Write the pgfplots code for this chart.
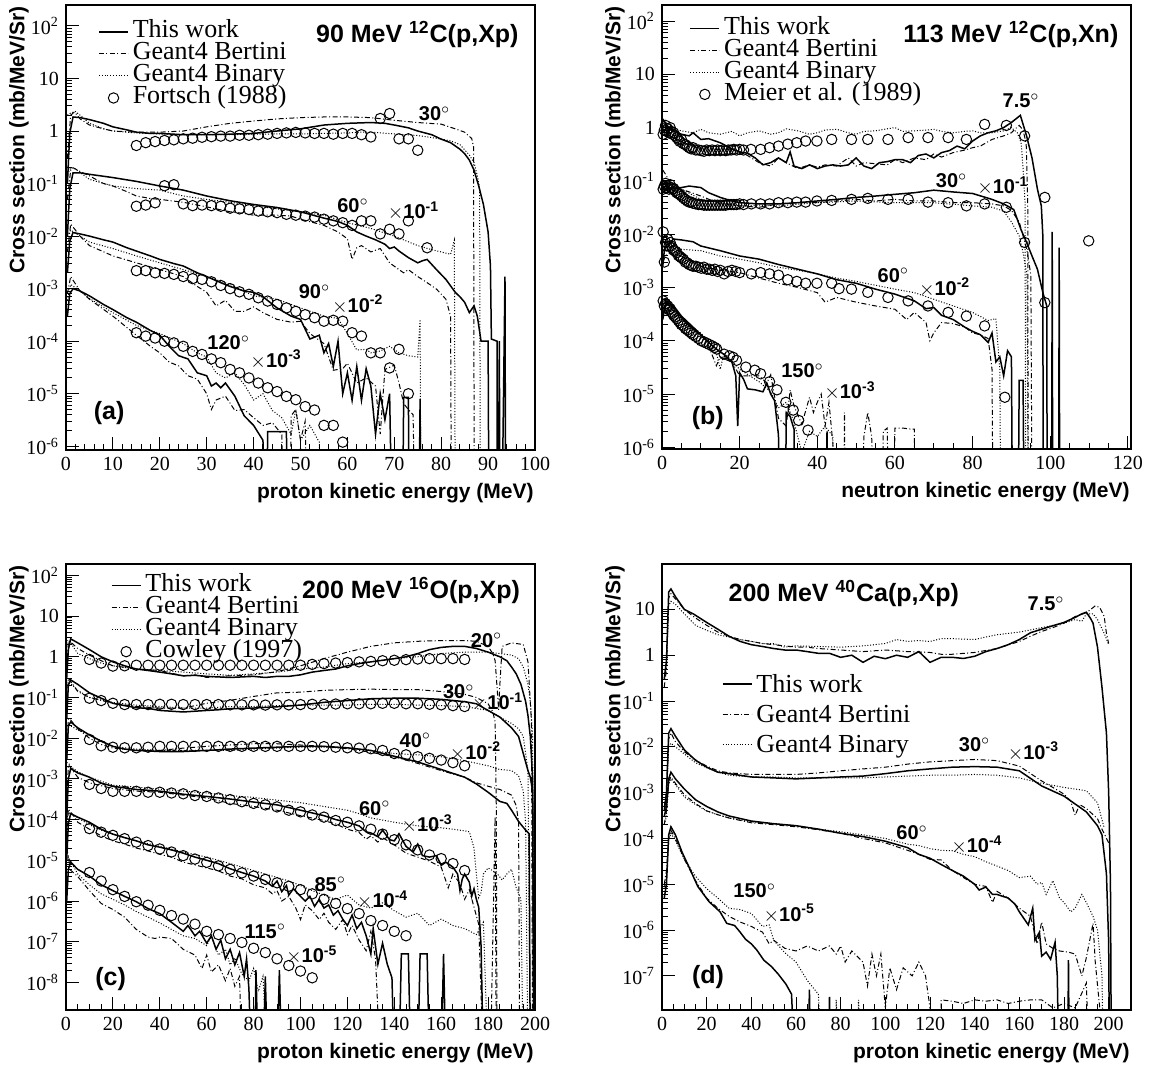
\documentclass[border=0pt]{standalone}
\usepackage{fontspec}
\setmainfont{Liberation Serif}
\setsansfont{Liberation Sans}
\usepackage{pgfplots}
\pgfplotsset{compat=1.18}

\newcommand{\ang}[1]{{\sffamily\bfseries\fontsize{10}{10}\selectfont #1$^{\circ}$}}
\newcommand{\fac}[1]{{\sffamily\bfseries\fontsize{10}{10}\selectfont$\times$10\textsuperscript{-#1}}}
\newcommand{\ttl}[1]{{\sffamily\bfseries\fontsize{12.5}{12.5}\selectfont #1}}
\newcommand{\pnl}[1]{{\sffamily\bfseries\fontsize{12.5}{12.5}\selectfont #1}}

\pgfplotsset{
  rootax/.style={
    scale only axis, width=234.5pt, height=222.5pt, anchor=south west,
    tick align=inside, tick pos=left,
    axis line style={line width=0.6pt},
    every tick/.style={black, line width=0.5pt},
    major tick length=6.5pt, minor tick length=3pt,
    ticklabel style={font=\rmfamily\fontsize{10}{11}\selectfont},
    xlabel style={font=\sffamily\bfseries\fontsize{10.5}{11}\selectfont, inner sep=0pt,
      at={([yshift=-24pt,xshift=-0.5pt]axis description cs:1,0)}, anchor=base east},
    ylabel style={font=\sffamily\bfseries\fontsize{10.5}{11}\selectfont, inner sep=0pt,
      at={([xshift=-23.5pt,yshift=-0.5pt]axis description cs:0,1)}, anchor=east},
    ylabel={Cross section (mb/MeV/Sr)},
    legend cell align=left,
    legend style={draw=none, fill=none, anchor=north west, inner sep=0pt,
      font=\rmfamily\fontsize{13}{13}\selectfont,
      nodes={inner sep=0pt, text height=8.5pt, text depth=2.5pt},
      /tikz/every odd column/.append style={column sep=2pt}},
  },
  tw/.style={black, line width=0.75pt, no marks,
    legend image code/.code={\draw[##1] (0pt,0pt)--(14.5pt,0pt);}},
  be/.style={black, line width=0.5pt, no marks,
    dash pattern=on 2.5pt off 1.2pt on 0.5pt off 1.2pt,
    legend image code/.code={\draw[##1] (0pt,0pt)--(14.5pt,0pt);}},
  bi/.style={black, line width=0.5pt, no marks,
    dash pattern=on 0.5pt off 0.9pt,
    legend image code/.code={\draw[##1] (0pt,0pt)--(14.5pt,0pt);}},
  ex/.style={black, only marks, mark=o, mark size=2.6pt,
    mark options={line width=0.5pt, solid},
    legend image code/.code={\draw[##1] plot coordinates {(7.25pt,0pt)};}},
  twf/.style={tw, forget plot},
  bef/.style={be, forget plot},
  bif/.style={bi, forget plot},
  exf/.style={ex, forget plot},
}

\begin{document}
\begin{tikzpicture}
\useasboundingbox (0pt,0pt) rectangle (575.5pt,-535pt);

% ---------------- (a) 90 MeV 12C(p,Xp)
\begin{axis}[ymode=log, rootax, at={(33pt,-225pt)},
  xmin=0, xmax=100, ymin=8.5e-7, ymax=250,
  xtick={0,10,...,100}, minor x tick num=4,
  xticklabels={0,10,20,30,40,50,60,70,80,90,100},
  ytick={1e-6,1e-5,1e-4,1e-3,1e-2,1e-1,1,10,100},
  yticklabels={10\textsuperscript{-6},10\textsuperscript{-5},10\textsuperscript{-4},10\textsuperscript{-3},10\textsuperscript{-2},10\textsuperscript{-1},1,10,10\textsuperscript{2}},
  xlabel={proton kinetic energy (MeV)},
  legend style={at={(0.068,0.965)}}]
% 30 deg
\addplot[tw] coordinates {(0.3,0.1)(0.8,0.9)(1.5,1.85)(3,1.8)(5,1.65)(8,1.4)(10,1.2)(13,1.05)(15,0.95)(18,0.9)(20,0.9)(25,0.85)(30,0.85)(35,0.87)(40,0.9)(45,1.0)(50,1.1)(55,1.3)(60,1.4)(65,1.45)(68,1.4)(70,1.3)(73,1.15)(75,1.0)(78,0.85)(80,0.7)(82,0.6)(84,0.45)(85,0.37)(86,0.28)(87,0.18)(88,0.09)(89,0.04)(90,0.012)(90.5,0.0027)(90.7,1.1e-4)(91.9,1e-4)(92,1e-10)(92.4,1e-4)(92.6,1e-10)(93.6,1.7e-3)(93.8,1e-10)};
\addlegendentry{This work}
\addplot[be] coordinates {(0.3,0.3)(1,2.0)(1.8,2.3)(3,1.7)(5,1.3)(8,1.1)(10,1.0)(15,0.95)(20,0.95)(25,1.0)(30,1.2)(35,1.4)(40,1.55)(45,1.7)(50,1.8)(55,1.85)(60,1.85)(65,1.8)(70,1.6)(75,1.45)(80,1.35)(83,1.1)(85,0.95)(86.5,0.72)(86.9,0.5)(87.1,1e-10)};
\addlegendentry{Geant4 Bertini}
\addplot[bi] coordinates {(0.3,2.0)(1,2.2)(2,2.35)(3,2.0)(5,1.4)(8,1.1)(10,1.0)(15,0.92)(20,0.88)(25,0.85)(30,0.85)(35,0.85)(40,0.87)(45,0.88)(50,0.88)(55,0.9)(60,0.92)(63,0.95)(65,0.95)(70,0.88)(75,0.82)(78,0.75)(80,0.7)(82,0.65)(84,0.55)(86,0.35)(87,0.25)(87.8,0.13)(88.2,0.08)(88.4,1e-10)};
\addlegendentry{Geant4 Binary}
\addplot[ex] coordinates {(15,0.53)(17,0.6)(19,0.63)(21,0.66)(23,0.68)(25,0.71)(27,0.73)(29,0.76)(31,0.78)(33,0.8)(35,0.8)(37,0.83)(39,0.83)(41,0.85)(43,0.87)(45,0.9)(47,0.92)(49,0.94)(51,0.92)(53,0.9)(55,0.9)(57,0.87)(59,0.9)(61,0.9)(63,0.85)(65,0.77)(67,1.73)(69,2.15)(71,0.71)(73,0.71)(75,0.43)};
\addlegendentry{Fortsch (1988)}
% 60 deg x1e-1
\addplot[twf] coordinates {(0.3,0.01)(0.8,0.08)(1.5,0.16)(3,0.16)(5,0.15)(10,0.13)(15,0.11)(20,0.09)(25,0.075)(30,0.058)(35,0.047)(40,0.04)(45,0.035)(50,0.029)(55,0.022)(58,0.019)(60,0.016)(62,0.012)(64,0.01)(66,0.0085)(68,0.007)(69,0.0058)(70,0.0062)(71,0.0052)(73,0.0039)(75,0.0031)(76,0.0034)(77,0.0036)(79,0.0023)(81,0.0015)(83,8.5e-4)(84,7e-4)(85,5.5e-4)(86,3.5e-4)(87,4.7e-4)(87.7,3e-4)(88.5,1e-4)(90,1e-4)(90.3,1e-10)};
\addplot[bef] coordinates {(0.3,0.05)(1,0.18)(1.5,0.2)(3,0.17)(5,0.14)(8,0.1)(10,0.09)(13,0.07)(15,0.058)(18,0.052)(20,0.05)(25,0.044)(30,0.036)(35,0.029)(38,0.027)(40,0.025)(45,0.025)(48,0.024)(50,0.021)(55,0.016)(58,0.012)(60,0.0089)(61,0.0036)(62,0.006)(63,0.0066)(65,0.005)(67,0.0058)(69,0.0031)(71,0.0023)(72,0.002)(73,0.0023)(75,0.0017)(77,0.0013)(79,9.8e-4)(81,6.3e-4)(82,3e-4)(82.3,1e-10)};
\addplot[bif] coordinates {(0.3,0.15)(1,0.2)(2,0.19)(5,0.12)(10,0.09)(15,0.08)(20,0.075)(25,0.058)(30,0.05)(35,0.044)(40,0.038)(45,0.033)(50,0.029)(55,0.025)(60,0.018)(65,0.014)(70,0.01)(75,0.0066)(78,0.0055)(80,0.005)(82,0.0045)(82.8,0.0083)(83.1,1e-10)};
\addplot[exf] coordinates {(15,0.037)(17,0.039)(19,0.043)(21,0.091)(23,0.095)(25,0.041)(27,0.038)(29,0.039)(31,0.038)(33,0.037)(35,0.034)(37,0.033)(39,0.032)(41,0.03)(43,0.029)(45,0.028)(47,0.026)(49,0.025)(51,0.024)(53,0.023)(55,0.021)(57,0.0195)(59,0.018)(61,0.016)(63,0.0195)(65,0.0195)(67,0.011)(69,0.0135)(71,0.011)(73,0.0195)(77,0.006)};
% 90 deg x1e-2
\addplot[twf] coordinates {(0.3,0.002)(0.8,0.008)(1.5,0.0117)(3,0.011)(5,0.01)(8,0.0085)(10,0.0077)(13,0.006)(15,0.0052)(18,0.0042)(20,0.0036)(23,0.003)(25,0.0027)(28,0.002)(30,0.0017)(33,0.0013)(35,0.0011)(38,9e-4)(40,8.5e-4)(42,7e-4)(45,4.3e-4)(48,3e-4)(50,2.6e-4)(52,1.1e-4)(54,1.3e-4)(55,6e-5)(56,9e-5)(57,3.3e-5)(58,1e-4)(59,1e-5)(60,2.5e-5)(61,7.5e-6)(62,3.3e-5)(63,7.5e-6)(64,3e-5)(65,1.4e-5)(66,1.7e-6)(67,1e-5)(68,3.2e-6)(69,1e-5)(70,1e-10)(71.5,1e-10)(72,8.5e-6)(73,8.5e-6)(73.4,1e-10)(75,1e-10)(75.5,8e-6)(75.8,1e-10)};
\addplot[bef] coordinates {(0.3,0.005)(1,0.017)(3,0.01)(5,0.0066)(10,0.0042)(15,0.0031)(20,0.0023)(25,0.0017)(28,0.0011)(30,8.5e-4)(32,4.7e-4)(34,6e-4)(36,3.7e-4)(38,3.7e-4)(40,4.5e-4)(42,3.5e-4)(45,2.6e-4)(48,2.3e-4)(50,2.4e-4)(52,1.4e-4)(55,9e-5)(57,2.8e-5)(59,3e-5)(60,3.8e-5)(62,1.6e-5)(64,2e-5)(66,1.4e-5)(67,1.7e-6)(68,2.9e-5)(70,3.5e-5)(71,1.6e-5)(72,6.5e-6)(73,5e-6)(74,4e-6)(75,1e-10)};
\addplot[bif] coordinates {(0.3,0.01)(1,0.013)(3,0.01)(5,0.0077)(10,0.0058)(15,0.0042)(20,0.0031)(25,0.0023)(30,0.0017)(35,0.0012)(40,7.3e-4)(45,6.3e-4)(50,4.3e-4)(55,3e-4)(58,2.7e-4)(60,1.4e-4)(62,6.8e-5)(64,7e-5)(65,6e-5)(67,6.5e-5)(69,8e-5)(71,6e-5)(73,5.3e-5)(75,5e-5)(75.5,2.6e-4)(75.8,1e-10)};
\addplot[exf] coordinates {(15,2.2e-3)(17,2.2e-3)(19,2.0e-3)(21,1.95e-3)(23,1.87e-3)(25,1.7e-3)(27,1.55e-3)(29,1.5e-3)(31,1.35e-3)(33,1.15e-3)(35,1.0e-3)(37,8.7e-4)(39,7.8e-4)(41,6.7e-4)(43,5.8e-4)(45,5e-4)(47,4.3e-4)(49,3.7e-4)(51,3.2e-4)(53,2.8e-4)(55,2.4e-4)(57,2.5e-4)(59,2.4e-4)(61,1.45e-4)(63,1.25e-4)(65,6e-5)(67,6e-5)(69,3.1e-5)(71,7e-5)(73,1e-5)};
% 120 deg x1e-3
\addplot[twf] coordinates {(0.3,3e-4)(0.8,8e-4)(1.5,0.001)(3,9e-4)(5,7.3e-4)(8,5e-4)(10,4e-4)(13,2.8e-4)(15,2.3e-4)(18,1.6e-4)(20,1.3e-4)(22,8e-5)(24,5.3e-5)(26,4.6e-5)(28,2.5e-5)(30,2.2e-5)(31,1.4e-5)(32,1.6e-5)(33,1.3e-5)(34,1.6e-5)(36,9e-6)(38,3.8e-6)(40,2.5e-6)(42,1.3e-6)(42.5,1e-10)(43,1.9e-6)(47,1.9e-6)(47.5,1e-10)(49,1e-10)(50,9e-7)(52,1e-10)};
\addplot[bef] coordinates {(0.3,8e-4)(1,0.0017)(3,9e-4)(5,6.3e-4)(10,3e-4)(15,1.3e-4)(18,8e-5)(20,6e-5)(22,4e-5)(24,3.4e-5)(26,2.2e-5)(28,1.9e-5)(30,1e-5)(31,5e-6)(32,7.6e-6)(34,9e-6)(36,4.8e-6)(38,5e-6)(40,3.5e-6)(42,2.5e-6)(44,2.8e-6)(46,1.7e-6)(47.5,1e-10)(48,3.8e-6)(49,5e-6)(50,1.3e-6)(51,3e-6)(52,1e-10)};
\addplot[bif] coordinates {(0.3,6e-4)(1,0.0012)(3,9e-4)(5,6.5e-4)(10,3.5e-4)(15,2e-4)(20,1.4e-4)(25,9e-5)(28,6e-5)(30,5e-5)(32,2.5e-5)(34,2e-5)(36,2.5e-5)(38,1.5e-5)(40,7.6e-6)(42,1e-5)(44,4.8e-6)(46,3.5e-6)(48,1.7e-6)(49,5e-6)(50,1.3e-6)(52,2.5e-6)(54,1.2e-6)(55,1e-10)};
\addplot[exf] coordinates {(15,1.45e-4)(17,1.25e-4)(19,1.15e-4)(21,1e-4)(23,9.3e-5)(25,8e-5)(27,6.4e-5)(29,5.6e-5)(31,4.6e-5)(33,3.9e-5)(35,2.9e-5)(37,2.5e-5)(39,2e-5)(41,1.6e-5)(43,1.3e-5)(45,1.1e-5)(47,8.9e-6)(49,7.7e-6)(51,5.7e-6)(53,4.9e-6)(55,2.5e-6)(57,2.5e-6)(59,1.2e-6)};
\node[anchor=east] at (rel axis cs:0.98,0.933) {\ttl{90 MeV \textsuperscript{12}C(p,Xp)}};
\node at (axis cs:78.6,2.1) {\ang{30}};
\node at (axis cs:61.2,0.038) {\ang{60}};
\node at (axis cs:74.1,0.03) {\fac{1}};
\node at (axis cs:53,8.7e-4) {\ang{90}};
\node at (axis cs:62.2,5e-4) {\fac{2}};
\node at (axis cs:34.7,9.3e-5) {\ang{120}};
\node at (axis cs:44.8,4.5e-5) {\fac{3}};
\node at (axis cs:9.2,4.3e-6) {\pnl{(a)}};
\end{axis}

% ---------------- (b) 113 MeV 12C(p,Xn)
\begin{axis}[ymode=log, rootax, at={(331pt,-224.5pt)}, height=222pt,
  xmin=0, xmax=120.8, ymin=9.3e-7, ymax=200,
  xtick={0,20,...,120}, minor x tick num=3,
  xticklabels={0,20,40,60,80,100,120},
  ytick={1e-6,1e-5,1e-4,1e-3,1e-2,1e-1,1,10,100},
  yticklabels={10\textsuperscript{-6},10\textsuperscript{-5},10\textsuperscript{-4},10\textsuperscript{-3},10\textsuperscript{-2},10\textsuperscript{-1},1,10,10\textsuperscript{2}},
  xlabel={neutron kinetic energy (MeV)},
  legend style={at={(0.058,0.973)}}]
% 7.5 deg
\addplot[tw] coordinates {(0.2,1.45)(1,1.2)(2,0.93)(3,0.85)(5,0.75)(7,0.7)(8,0.8)(10,0.6)(12,0.62)(15,0.52)(18,0.4)(20,0.35)(22,0.33)(24,0.27)(26,0.2)(28,0.22)(30,0.27)(32,0.22)(33,0.35)(34,0.19)(36,0.17)(38,0.2)(40,0.17)(42,0.19)(44,0.2)(46,0.19)(48,0.2)(50,0.27)(52,0.19)(54,0.17)(56,0.22)(58,0.23)(60,0.25)(62,0.25)(64,0.22)(66,0.3)(68,0.32)(70,0.27)(72,0.34)(74,0.37)(76,0.45)(78,0.4)(80,0.56)(82,0.7)(84,0.8)(86,0.87)(88,1.0)(90,1.25)(92.3,1.7)(93.9,0.7)(95.3,0.27)(96.7,0.07)(97.7,0.034)(98.1,0.009)(98.2,1e-10)(100.3,1e-10)(100.5,0.011)(100.7,1e-10)(102.1,1e-10)(102.3,0.0056)(102.5,1e-10)};
\addlegendentry{This work}
\addplot[be] coordinates {(0.2,1.4)(1,1.1)(2,0.8)(3,0.7)(5,0.52)(8,0.45)(10,0.4)(12,0.42)(15,0.38)(18,0.4)(20,0.35)(22,0.3)(25,0.22)(28,0.19)(30,0.27)(32,0.22)(35,0.17)(38,0.2)(40,0.18)(42,0.2)(45,0.19)(48,0.27)(50,0.19)(52,0.22)(55,0.21)(58,0.2)(60,0.25)(62,0.22)(65,0.27)(68,0.25)(70,0.32)(72,0.28)(75,0.34)(78,0.38)(80,0.42)(82,0.45)(85,0.6)(88,0.7)(90,0.8)(91,0.95)(92,1.1)(93,0.9)(93.8,0.5)(94.2,0.04)(94.4,1e-10)};
\addlegendentry{Geant4 Bertini}
\addplot[bi] coordinates {(0.2,1.2)(1,1.25)(2,1.1)(3,0.95)(5,0.87)(8,0.8)(10,0.93)(12,0.8)(15,0.75)(18,0.85)(20,0.7)(22,0.8)(25,0.87)(28,0.75)(30,0.8)(32,0.95)(35,0.87)(38,0.75)(40,0.8)(42,0.9)(45,0.93)(48,0.8)(50,0.75)(52,0.85)(55,0.87)(58,0.95)(60,1.0)(62,0.85)(65,0.87)(68,0.9)(70,0.93)(72,0.85)(75,0.8)(78,0.85)(80,0.87)(82,0.8)(85,0.8)(88,0.87)(90,1.0)(91.5,0.8)(92.5,0.52)(93,0.17)(93.5,0.04)(93.8,1e-10)};
\addlegendentry{Geant4 Binary}
\addplot[ex] coordinates {(0.3,0.75)(0.6,0.9)(0.9,1.1)(1.2,0.85)(1.5,0.95)(1.8,0.8)(2.1,1.0)(2.4,0.85)(2.7,0.75)(3,0.8)(3.4,0.7)(3.8,0.65)(4.2,0.6)(4.6,0.55)(5,0.6)(5.5,0.5)(6,0.48)(6.5,0.45)(7,0.42)(7.5,0.4)(8,0.42)(8.7,0.38)(9.4,0.38)(10.1,0.37)(10.8,0.36)(11.5,0.38)(12.2,0.37)(12.9,0.38)(13.6,0.37)(14.3,0.38)(15,0.37)(15.7,0.38)(16.4,0.37)(17.1,0.38)(17.8,0.38)(18.5,0.39)(19.2,0.38)(20,0.39)(21,0.38)(22.9,0.39)(25.4,0.39)(27.7,0.42)(30,0.45)(32.4,0.49)(34.7,0.52)(37,0.56)(39.9,0.56)(43.7,0.6)(48.8,0.6)(53,0.6)(58.2,0.6)(63.4,0.65)(68.5,0.65)(73.7,0.65)(78.4,0.6)(83.1,1.15)(88.7,1.1)(93.4,0.7)(98.6,0.049)(109.9,0.0075)};
\addlegendentry{Meier et al. (1989)}
% 30 deg x1e-1
\addplot[twf] coordinates {(0.2,0.1)(1,0.09)(2,0.07)(4,0.075)(5,0.075)(7,0.08)(10,0.075)(12,0.06)(15,0.049)(18,0.042)(20,0.039)(25,0.037)(30,0.037)(35,0.039)(40,0.042)(45,0.045)(50,0.049)(55,0.052)(60,0.056)(65,0.06)(70,0.067)(75,0.062)(80,0.058)(85,0.045)(88,0.037)(90.6,0.029)(92.5,0.012)(93.9,0.007)(95.3,0.0039)(96.7,0.0022)(98.1,8e-4)(99.1,4.5e-4)(99.3,1e-10)};
\addplot[bef] coordinates {(0.2,0.16)(1,0.13)(2,0.093)(5,0.07)(10,0.052)(15,0.037)(20,0.034)(25,0.032)(30,0.037)(35,0.039)(40,0.039)(45,0.042)(50,0.045)(55,0.042)(60,0.045)(65,0.042)(70,0.042)(75,0.039)(80,0.039)(85,0.037)(88,0.034)(90,0.028)(92,0.017)(93,0.0093)(94,0.005)(95,0.0017)(95.5,1e-10)};
\addplot[bif] coordinates {(0.2,0.08)(1,0.085)(2,0.075)(5,0.07)(10,0.045)(15,0.039)(20,0.034)(25,0.035)(30,0.034)(40,0.039)(50,0.042)(60,0.039)(70,0.039)(80,0.034)(85,0.032)(88,0.027)(90,0.017)(92,0.0093)(93,0.0045)(94,0.0017)(94.5,1e-10)};
\addplot[exf] coordinates {(0.3,0.07)(0.6,0.08)(0.9,0.09)(1.2,0.075)(1.5,0.08)(1.8,0.07)(2.1,0.085)(2.4,0.075)(2.7,0.07)(3,0.072)(3.4,0.065)(3.8,0.06)(4.2,0.058)(4.6,0.055)(5,0.052)(5.5,0.048)(6,0.045)(6.5,0.042)(7,0.04)(7.5,0.04)(8,0.038)(8.7,0.037)(9.4,0.036)(10.1,0.036)(10.8,0.035)(11.5,0.035)(12.2,0.035)(12.9,0.035)(13.6,0.035)(14.3,0.035)(15,0.035)(15.7,0.035)(16.4,0.035)(17.1,0.036)(17.8,0.036)(18.5,0.036)(19.2,0.036)(20,0.037)(21,0.036)(23,0.037)(25.4,0.037)(27.7,0.037)(30,0.039)(32.4,0.039)(34.7,0.04)(37,0.04)(39.9,0.042)(43.7,0.043)(48.8,0.045)(53,0.047)(58.2,0.045)(63.4,0.045)(68.5,0.04)(73.7,0.039)(78.4,0.034)(83.1,0.037)(88.7,0.032)(93.4,0.007)(98.6,5.2e-4)};
% 60 deg x1e-2
\addplot[twf] coordinates {(0.2,0.0025)(0.6,0.005)(1,0.006)(3,0.0081)(5,0.0078)(8,0.0072)(10,0.006)(15,0.0049)(20,0.0039)(25,0.0034)(30,0.0027)(35,0.0022)(40,0.0018)(45,0.0014)(50,0.0012)(55,9.3e-4)(60,7.5e-4)(65,5.6e-4)(68,4e-4)(70,4.2e-4)(72,3e-4)(75,2.5e-4)(78,1.8e-4)(80,1.5e-4)(82,1.3e-4)(84,9.3e-5)(85,1.4e-4)(86,4e-5)(87,5e-5)(88,2.2e-5)(89,6.5e-5)(90,5e-5)(90.5,1e-10)(91.5,1e-10)(92,1.8e-5)(93,1.8e-5)(93.5,1e-10)};
\addplot[bef] coordinates {(0.2,0.003)(1,0.004)(2,0.0045)(5,0.0039)(10,0.0025)(15,0.0021)(20,0.0019)(25,0.0015)(30,0.0012)(35,0.001)(40,8e-4)(42,5.3e-4)(45,6.5e-4)(50,5.3e-4)(55,4.5e-4)(60,3.9e-4)(63,2.5e-4)(65,3.4e-4)(68,2.2e-4)(69,1e-4)(70,1.4e-4)(72,2.2e-4)(75,2.1e-4)(78,1.8e-4)(80,1.4e-4)(82,1.3e-4)(84,1.1e-4)(85,2.9e-5)(85.5,1e-10)};
\addplot[bif] coordinates {(0.2,0.007)(1,0.008)(2,0.0075)(5,0.0052)(10,0.0049)(15,0.0039)(20,0.0034)(25,0.0029)(30,0.0024)(35,0.0021)(40,0.0018)(45,0.0015)(50,0.0013)(55,0.0011)(60,9.3e-4)(65,8e-4)(70,6e-4)(75,4.5e-4)(80,3.4e-4)(84,2.4e-4)(86,2.6e-4)(87,2.9e-5)(87.5,1e-10)};
\addplot[exf] coordinates {(0.3,0.011)(0.6,0.003)(0.9,0.007)(1.2,0.006)(1.5,0.008)(1.8,0.006)(2.1,0.007)(2.4,0.006)(2.7,0.0055)(3,0.005)(3.4,0.0048)(3.8,0.0045)(4.2,0.004)(4.6,0.0038)(5,0.0036)(5.5,0.0034)(6,0.003)(6.5,0.0029)(7,0.0027)(7.5,0.0026)(8,0.0025)(8.7,0.0025)(9.4,0.0024)(10.1,0.0023)(10.8,0.0024)(11.5,0.0022)(12.2,0.0022)(12.9,0.0021)(13.6,0.0022)(14.3,0.002)(15,0.0021)(16,0.0018)(17,0.002)(18,0.0021)(19,0.002)(20,0.0019)(23,0.0018)(25.4,0.0019)(27.7,0.0018)(30,0.0017)(32.4,0.0014)(34.7,0.0013)(37,0.0012)(39.9,0.0012)(43.7,0.0012)(45.6,9.5e-4)(48.8,9.3e-4)(53,8.1e-4)(58.2,6.5e-4)(63.4,5.6e-4)(68.5,4.5e-4)(73.7,3.4e-4)(78.4,2.9e-4)(83.1,1.9e-4)(88.3,8.7e-6)};
% 150 deg x1e-3
\addplot[twf] coordinates {(0.2,2.5e-4)(1,5.6e-4)(3,4.5e-4)(5,2.9e-4)(8,1.8e-4)(10,1.3e-4)(12,9.3e-5)(14,7e-5)(16,5.5e-5)(18,4e-5)(19,2.2e-5)(19.5,2.5e-6)(20,2.5e-5)(21,1.9e-5)(22,1.25e-5)(24,1.2e-5)(26,1.1e-5)(27,1.6e-5)(28,1e-5)(29,7.5e-6)(30,1.7e-6)(30.5,1e-10)(31.5,1e-10)(32,4.5e-6)(33,3.8e-6)(34,2.2e-6)(34.5,1e-10)(42,1e-10)(42.5,2e-6)(43,1e-10)};
\addplot[bef] coordinates {(0.2,6e-4)(2,5.2e-4)(5,2.7e-4)(8,1.8e-4)(10,1.3e-4)(12,8e-5)(14,3.4e-5)(15,5e-5)(18,4e-5)(20,2.2e-5)(25,2.2e-5)(27,1.6e-5)(28,2.3e-5)(30,3.5e-6)(32,2.5e-6)(33,1.2e-5)(34,6e-6)(36,2.7e-6)(38,8.7e-6)(39,4.5e-6)(40,7e-6)(41,1e-5)(42,2.5e-6)(43,7e-6)(44,1.2e-6)(45,1e-10)(46.5,1e-10)(47,4.5e-6)(47.5,1e-10)(50,1e-10)(52,1.6e-6)(53,4.5e-6)(54,1.6e-6)(56,1e-10)(57,2e-6)(58,2.3e-6)(59,1e-10)(60,2.3e-6)(62,2.3e-6)(64,2.2e-6)(65,2.2e-6)(65.3,1e-10)};
\addplot[bif] coordinates {(0.2,5e-4)(2,4.5e-4)(5,2.5e-4)(10,1.4e-4)(14,6e-5)(15,2.9e-5)(16,6e-5)(20,2.9e-5)(25,1.7e-5)(28,1.1e-5)(30,5.5e-6)(32,7e-6)(34,3e-6)(36,8e-7)(38,2e-6)(40,1.6e-6)(42,2.5e-6)(44,1.6e-6)(45,1e-10)};
\addplot[exf] coordinates {(0.3,5.6e-4)(0.6,4.5e-4)(0.9,5e-4)(1.2,4.2e-4)(1.5,4.5e-4)(1.8,3.8e-4)(2.1,4e-4)(2.4,3.5e-4)(2.7,3.3e-4)(3,3e-4)(3.4,2.8e-4)(3.8,2.6e-4)(4.2,2.4e-4)(4.6,2.2e-4)(5,2e-4)(5.5,1.9e-4)(6,1.7e-4)(6.5,1.6e-4)(7,1.5e-4)(7.5,1.4e-4)(8,1.3e-4)(8.7,1.2e-4)(9.4,1.1e-4)(10.1,1e-4)(10.8,9.5e-5)(11.5,9e-5)(12.2,8.5e-5)(12.9,8e-5)(13.6,7.5e-5)(14.1,7e-5)(16,5.6e-5)(17.4,5.2e-5)(18.3,4.9e-5)(19.2,4.3e-5)(21.6,3.2e-5)(23.9,2.8e-5)(25.4,2.4e-5)(27.7,1.7e-5)(29.6,1.2e-5)(31.9,7e-6)(33.8,5e-6)(35.2,3.2e-6)(37.6,2.1e-6)};
\node[anchor=east] at (rel axis cs:0.988,0.934) {\ttl{113 MeV \textsuperscript{12}C(p,Xn)}};
\node at (axis cs:92.5,3.2) {\ang{7.5}};
\node at (axis cs:74.6,0.1) {\ang{30}};
\node at (axis cs:87.8,0.08) {\fac{1}};
\node at (axis cs:59.6,1.7e-3) {\ang{60}};
\node at (axis cs:72.8,1e-3) {\fac{2}};
\node at (axis cs:36.2,2.7e-5) {\ang{150}};
\node at (axis cs:48.4,1.15e-5) {\fac{3}};
\node at (axis cs:11.8,3.6e-6) {\pnl{(b)}};
\end{axis}

% ---------------- (c) 200 MeV 16O(p,Xp)
\begin{axis}[ymode=log, rootax, at={(33pt,-505pt)}, height=223pt,
  xmin=0, xmax=200, ymin=2.1e-9, ymax=190,
  xtick={0,20,...,200}, minor x tick num=3,
  xticklabels={0,20,40,60,80,100,120,140,160,180,200},
  ytick={1e-8,1e-7,1e-6,1e-5,1e-4,1e-3,1e-2,1e-1,1,10,100},
  yticklabels={10\textsuperscript{-8},10\textsuperscript{-7},10\textsuperscript{-6},10\textsuperscript{-5},10\textsuperscript{-4},10\textsuperscript{-3},10\textsuperscript{-2},10\textsuperscript{-1},1,10,10\textsuperscript{2}},
  xlabel={proton kinetic energy (MeV)},
  legend style={at={(0.095,0.977)}}]
% 20 deg
\addplot[tw] coordinates {(0.3,0.3)(1,1.5)(2,2.75)(5,2.2)(10,1.5)(15,1.0)(20,0.75)(25,0.6)(30,0.5)(35,0.46)(40,0.42)(45,0.38)(50,0.34)(55,0.35)(60,0.33)(65,0.32)(70,0.31)(75,0.32)(80,0.33)(85,0.31)(90,0.33)(95,0.33)(100,0.36)(105,0.42)(110,0.46)(115,0.5)(120,0.6)(125,0.68)(130,0.75)(135,0.82)(140,0.9)(145,1.0)(150,1.2)(155,1.5)(160,1.7)(165,1.8)(170,1.8)(175,1.6)(180,1.3)(185,1.0)(188,0.8)(190,0.56)(192,0.38)(194,0.21)(196,0.08)(197,0.036)(198,0.011)(199,0.001)(199.5,1e-10)};
\addlegendentry{This work}
\addplot[be] coordinates {(0.3,0.5)(1,2.5)(2,2.3)(5,1.6)(10,1.1)(15,0.8)(20,0.6)(25,0.55)(30,0.5)(40,0.46)(50,0.34)(55,0.36)(60,0.31)(65,0.33)(70,0.34)(80,0.36)(90,0.43)(100,0.6)(110,0.9)(120,1.3)(130,1.8)(140,2.2)(150,2.4)(160,2.5)(170,2.5)(175,2.4)(180,1.8)(182,1.2)(183,0.8)(184.5,0.05)(185,0.2)(186,1.8)(190,2.2)(195,2.0)(197,0.75)(198.5,0.025)(199,1e-10)};
\addlegendentry{Geant4 Bertini}
\addplot[bi] coordinates {(0.3,2.5)(1,2.5)(2,2.2)(5,1.2)(10,0.9)(15,0.7)(20,0.6)(30,0.5)(40,0.46)(50,0.42)(60,0.38)(70,0.35)(80,0.38)(90,0.42)(100,0.5)(110,0.56)(120,0.68)(130,0.75)(140,0.9)(150,1.0)(160,1.2)(170,1.3)(180,1.3)(185,1.2)(190,1.1)(193,0.9)(195,0.56)(197,0.21)(198,0.08)(199,0.011)(199.5,1e-10)};
\addlegendentry{Geant4 Binary}
\addplot[ex] coordinates {(10,0.86)(15,0.7)(20,0.59)(25,0.6)(30,0.62)(35,0.62)(40,0.62)(45,0.62)(50,0.62)(55,0.62)(60,0.62)(65,0.62)(70,0.62)(75,0.62)(80,0.62)(85,0.62)(90,0.62)(95,0.62)(100,0.62)(105,0.65)(110,0.68)(115,0.7)(120,0.72)(125,0.75)(130,0.77)(135,0.8)(140,0.82)(145,0.85)(150,0.88)(155,0.9)(160,0.9)(165,0.9)(170,0.86)};
\addlegendentry{Cowley (1997)}
% 30 deg x1e-1
\addplot[twf] coordinates {(0.3,0.03)(1,0.2)(2,0.27)(5,0.21)(10,0.13)(15,0.096)(20,0.072)(25,0.063)(30,0.056)(35,0.054)(40,0.048)(45,0.046)(50,0.044)(55,0.046)(60,0.048)(65,0.05)(70,0.053)(80,0.055)(90,0.059)(100,0.065)(110,0.076)(120,0.084)(130,0.093)(140,0.096)(150,0.096)(160,0.09)(170,0.079)(175,0.07)(180,0.048)(185,0.033)(190,0.018)(193,0.011)(195,0.0042)(197,0.0016)(198,0.0011)(199,5e-4)(199.5,1e-10)};
\addplot[bef] coordinates {(0.3,0.05)(1,0.3)(2,0.25)(5,0.14)(10,0.1)(20,0.072)(30,0.06)(40,0.055)(50,0.055)(60,0.072)(70,0.085)(80,0.106)(90,0.13)(100,0.135)(110,0.15)(120,0.156)(130,0.16)(140,0.156)(150,0.156)(160,0.14)(170,0.12)(175,0.1)(180,0.07)(182,0.045)(183,0.025)(183.5,2e-4)(183.8,1e-10)};
\addplot[bif] coordinates {(0.3,0.2)(1,0.25)(2,0.22)(5,0.15)(10,0.1)(20,0.075)(30,0.065)(40,0.06)(50,0.055)(60,0.055)(70,0.06)(80,0.06)(90,0.063)(100,0.065)(110,0.065)(120,0.065)(130,0.068)(140,0.068)(150,0.065)(160,0.063)(170,0.06)(180,0.048)(185,0.033)(190,0.023)(193,0.017)(195,0.011)(196,0.0042)(197,0.0016)(198,1e-10)};
\addplot[exf] coordinates {(10,0.096)(15,0.084)(20,0.072)(25,0.067)(30,0.067)(35,0.067)(40,0.068)(45,0.068)(50,0.067)(55,0.067)(60,0.067)(65,0.067)(70,0.066)(75,0.066)(80,0.066)(85,0.065)(90,0.066)(95,0.066)(100,0.067)(105,0.068)(110,0.068)(115,0.069)(120,0.07)(125,0.07)(130,0.07)(135,0.072)(140,0.072)(145,0.07)(150,0.07)(155,0.068)(160,0.066)(165,0.063)(170,0.06)};
% 40 deg x1e-2
\addplot[twf] coordinates {(0.3,0.003)(1,0.02)(2,0.025)(5,0.018)(10,0.012)(15,0.0084)(20,0.0063)(25,0.0054)(30,0.005)(40,0.0047)(50,0.0047)(60,0.005)(70,0.0054)(80,0.0057)(90,0.006)(100,0.0063)(110,0.0063)(120,0.0058)(130,0.005)(140,0.0036)(150,0.0026)(160,0.0017)(170,0.0011)(175,7.5e-4)(180,4.7e-4)(185,2.8e-4)(188,2.5e-4)(190,1.7e-4)(193,9e-5)(196,5.5e-5)(197.5,4.5e-5)(198,1e-10)};
\addplot[bef] coordinates {(0.3,0.003)(1,0.03)(2,0.028)(5,0.017)(10,0.01)(15,0.007)(20,0.0057)(30,0.005)(40,0.005)(50,0.0057)(60,0.0063)(70,0.0068)(80,0.0073)(90,0.0073)(100,0.0068)(110,0.0063)(120,0.0055)(130,0.0045)(140,0.0035)(150,0.0024)(160,0.0016)(170,0.0011)(175,8e-4)(180,6.6e-4)(185,5.5e-4)(190,4e-4)(192,2.2e-4)(193,8.5e-5)(193.5,1e-10)};
\addplot[bif] coordinates {(0.3,0.02)(1,0.022)(2,0.02)(5,0.016)(10,0.012)(20,0.0063)(30,0.0054)(40,0.005)(50,0.005)(60,0.005)(70,0.005)(80,0.0054)(90,0.0057)(100,0.006)(110,0.006)(120,0.0057)(130,0.005)(140,0.0042)(150,0.0039)(160,0.0035)(170,0.0028)(180,0.0021)(185,0.0017)(190,0.0016)(193,0.0012)(195,5e-4)(196,8.5e-5)(197,1e-10)};
\addplot[exf] coordinates {(10,0.0093)(15,0.0065)(20,0.006)(25,0.0058)(30,0.0058)(35,0.006)(40,0.0063)(45,0.0063)(50,0.0063)(55,0.0063)(60,0.0063)(65,0.0063)(70,0.0063)(75,0.0063)(80,0.0063)(85,0.0063)(90,0.0063)(95,0.0063)(100,0.0063)(105,0.0063)(110,0.0062)(115,0.006)(120,0.0058)(125,0.0057)(130,0.0055)(135,0.005)(140,0.0042)(145,0.0039)(150,0.0035)(155,0.0032)(160,0.0029)(165,0.0025)(170,0.0021)};
% 60 deg x1e-3
\addplot[twf] coordinates {(0.3,1e-4)(1,0.001)(2,0.0018)(5,0.0014)(10,0.0011)(15,7.9e-4)(20,6.6e-4)(25,6e-4)(30,5.5e-4)(40,5e-4)(50,4.2e-4)(60,3.7e-4)(70,3.2e-4)(80,2.7e-4)(90,2.3e-4)(100,1.7e-4)(110,1.25e-4)(115,1e-4)(120,8.6e-5)(125,7e-5)(128,5e-5)(130,4.7e-5)(133,3.8e-5)(135,5.5e-5)(138,3.2e-5)(140,3e-5)(142,4.5e-5)(145,2.2e-5)(148,1.6e-5)(150,2.5e-5)(152,1.3e-5)(155,1.2e-5)(158,1.3e-5)(160,7.5e-6)(162,9e-6)(165,6.8e-6)(167,4.6e-6)(168,1.8e-6)(169,3.5e-6)(170,4.6e-6)(172,2.9e-6)(173,1.3e-6)(174,2e-6)(175,1.1e-6)(176,7e-7)(177,8e-8)(178,1e-10)};
\addplot[bef] coordinates {(0.3,2e-4)(1,0.0022)(2,0.0019)(5,0.0011)(10,8e-4)(20,5.8e-4)(30,5e-4)(40,4.7e-4)(50,4e-4)(60,3.4e-4)(70,2.5e-4)(80,2.1e-4)(90,1.7e-4)(100,1.25e-4)(110,9.5e-5)(115,7.8e-5)(120,5.8e-5)(125,4.8e-5)(128,3.3e-5)(130,4e-5)(133,2.8e-5)(135,3.6e-5)(140,2.4e-5)(145,1.5e-5)(150,1.2e-5)(155,9.5e-6)(160,6.8e-6)(163,2.1e-6)(165,4.6e-6)(168,2.7e-6)(170,1.1e-6)(172,1.9e-6)(174,7e-7)(176,2.7e-7)(178,1e-10)(181,1e-10)(183,1.2e-4)(183.5,1e-10)};
\addplot[bif] coordinates {(0.3,0.0025)(1,0.0025)(2,0.002)(5,0.0015)(10,0.0011)(20,7e-4)(30,6.3e-4)(40,5.6e-4)(50,5e-4)(60,4.5e-4)(70,3.9e-4)(80,3.5e-4)(90,3e-4)(100,2.6e-4)(110,2.1e-4)(120,1.7e-4)(125,1.4e-4)(130,1.1e-4)(140,8.6e-5)(150,7e-5)(160,6.3e-5)(165,5.8e-5)(170,5.3e-5)(172,5e-5)(174,2e-5)(175,4.6e-6)(176,1.2e-6)(177,1.6e-6)(178,4.6e-6)(180,6.5e-6)(182,5.5e-6)(184,4.6e-6)(186,3.3e-6)(188,4.6e-6)(190,6e-6)(192,2.1e-6)(194,1.1e-6)(195,1e-10)};
\addplot[exf] coordinates {(10,7.3e-4)(15,5.8e-4)(20,4.95e-4)(25,4.95e-4)(30,4.95e-4)(35,4.7e-4)(40,4.7e-4)(45,4.5e-4)(50,4.3e-4)(55,3.9e-4)(60,3.7e-4)(65,3.4e-4)(70,3.1e-4)(75,2.75e-4)(80,2.5e-4)(85,2.3e-4)(90,2.05e-4)(95,1.7e-4)(100,1.55e-4)(105,1.3e-4)(110,1.15e-4)(115,9.5e-5)(120,8.6e-5)(125,7e-5)(130,5.8e-5)(135,4.4e-5)(140,3.2e-5)(145,2.4e-5)(150,1.8e-5)(155,1.35e-5)(160,1.1e-5)(165,8.3e-6)(170,5.6e-6)};
% 85 deg x1e-4
\addplot[twf] coordinates {(0.3,1e-5)(1,8e-5)(2,1.4e-4)(5,1.15e-4)(10,8.6e-5)(15,5.8e-5)(20,4.4e-5)(25,3.6e-5)(30,3e-5)(35,2.4e-5)(40,2.1e-5)(45,1.8e-5)(50,1.5e-5)(55,1.2e-5)(60,1e-5)(65,8.3e-6)(70,6.2e-6)(75,5e-6)(80,4.1e-6)(85,3.1e-6)(88,2.3e-6)(90,3.1e-6)(92,1.7e-6)(94,2.4e-6)(95,1.4e-6)(97,2e-6)(100,1.3e-6)(102,1e-6)(104,1.3e-6)(106,7.4e-7)(108,1.1e-6)(110,6.7e-7)(112,8e-7)(114,4.5e-7)(116,5.8e-7)(118,3.6e-7)(120,2.5e-7)(122,4.5e-7)(124,2.1e-7)(126,3e-7)(128,1.4e-7)(130,5e-8)(131,2.1e-7)(133,2.8e-8)(135,9.2e-8)(137,2.8e-8)(139,1.3e-8)(140,1e-10)(142,1e-10)(143,5e-8)(146,5e-8)(147,1e-10)(150,1e-10)(151,5e-8)(154,5e-8)(155,1e-10)(160,1e-10)(161,5e-8)(162,1e-10)};
\addplot[bef] coordinates {(0.3,2e-5)(1,1.8e-4)(3,1.3e-4)(5,8.6e-5)(10,5.8e-5)(15,4e-5)(20,3e-5)(25,2.5e-5)(30,2e-5)(35,1.7e-5)(40,1.4e-5)(45,1.2e-5)(50,9e-6)(55,7.7e-6)(60,6.5e-6)(65,5.5e-6)(70,4.1e-6)(75,3.5e-6)(80,2.5e-6)(85,2.1e-6)(88,1.5e-6)(90,1.8e-6)(92,1e-6)(95,1.3e-6)(98,6.7e-7)(100,3.5e-7)(102,8e-7)(105,5.8e-7)(108,3.5e-7)(110,5e-7)(112,3e-7)(115,2e-7)(118,3.5e-7)(120,1.5e-7)(122,2.5e-7)(125,1.1e-7)(128,6e-8)(130,1.8e-7)(132,3.8e-8)(134,1e-10)};
\addplot[bif] coordinates {(0.3,1e-4)(1,1.5e-4)(3,1.3e-4)(5,1.1e-4)(10,7.5e-5)(15,5.5e-5)(20,4.4e-5)(30,3e-5)(40,2.2e-5)(50,1.6e-5)(60,1.2e-5)(70,8.3e-6)(80,5.6e-6)(85,4.6e-6)(90,3.8e-6)(95,3.1e-6)(100,2.4e-6)(105,1.8e-6)(110,1.4e-6)(115,1.1e-6)(120,1.4e-6)(125,8e-7)(130,6.7e-7)(135,9e-7)(140,5.8e-7)(145,4e-7)(150,5e-7)(155,2.5e-7)(160,3.6e-7)(165,2.5e-7)(170,2.1e-7)(175,1.5e-7)(178,3e-7)(180,1e-10)};
\addplot[exf] coordinates {(10,6e-5)(15,4.9e-5)(20,4.1e-5)(25,3.4e-5)(30,2.8e-5)(35,2.3e-5)(40,1.9e-5)(45,1.6e-5)(50,1.3e-5)(55,1.07e-5)(60,8.9e-6)(65,7.3e-6)(70,6e-6)(75,4.9e-6)(80,4.1e-6)(85,3.4e-6)(90,2.8e-6)(95,2.3e-6)(100,1.9e-6)(105,1.5e-6)(110,1.1e-6)(115,8.7e-7)(120,6.5e-7)(125,4.9e-7)(130,3.3e-7)(135,2.5e-7)(140,1.8e-7)(145,1.4e-7)};
% 115 deg x1e-5
\addplot[twf] coordinates {(0.3,1e-6)(1,6e-6)(2,9e-6)(5,6e-6)(10,4.1e-6)(15,2.5e-6)(20,1.8e-6)(25,1.3e-6)(30,9.6e-7)(35,6.5e-7)(40,4.9e-7)(45,3e-7)(50,1.8e-7)(52,2.5e-7)(55,1.4e-7)(57,1.8e-7)(60,9.2e-8)(62,1.4e-7)(64,6.5e-8)(66,1.1e-7)(68,3.8e-8)(70,6.5e-8)(72,2.7e-8)(74,5.4e-8)(76,1.4e-8)(77,3.8e-8)(78,7e-9)(79,1e-10)(80.5,1e-10)(81,2e-8)(82,1e-10)(84,1e-10)(85,1.4e-8)(86,1e-10)(90,1e-10)(91,2e-8)(92,1e-10)};
\addplot[bef] coordinates {(0.3,2e-5)(2,5.7e-6)(5,4e-6)(10,1.8e-6)(15,8.7e-7)(20,6.2e-7)(25,4e-7)(30,2e-7)(35,1.3e-7)(38,1.2e-7)(40,1.3e-7)(45,1.2e-7)(50,6.5e-8)(55,4.7e-8)(58,2.2e-8)(60,4.7e-8)(62,1.8e-8)(65,2.7e-8)(68,1.1e-8)(70,2.2e-8)(72,8e-9)(74,1.4e-8)(75,1e-10)};
\addplot[bif] coordinates {(0.3,1e-5)(1,1.2e-5)(5,4.6e-6)(10,2.5e-6)(15,1.5e-6)(20,1.1e-6)(25,8e-7)(30,5.5e-7)(35,4e-7)(40,2.9e-7)(45,2e-7)(50,1.4e-7)(55,1.2e-7)(60,8e-8)(62,1.4e-7)(65,4.7e-8)(68,6.5e-8)(70,2.7e-8)(72,4e-8)(75,1.6e-8)(78,1.1e-8)(80,2.2e-8)(82,6e-9)(84,1.4e-8)(86,1e-10)};
\addplot[exf] coordinates {(10,5e-6)(15,3.1e-6)(20,1.9e-6)(25,1.3e-6)(30,9.6e-7)(35,7.9e-7)(40,5.9e-7)(45,4.4e-7)(50,3.6e-7)(55,2.7e-7)(60,1.8e-7)(65,1.5e-7)(70,1.2e-7)(75,9.6e-8)(80,6.9e-8)(85,5.4e-8)(90,3.8e-8)(95,2.6e-8)(100,1.9e-8)(105,1.3e-8)};
\node[anchor=east] at (rel axis cs:0.983,0.94) {\ttl{200 MeV \textsuperscript{16}O(p,Xp)}};
\node at (axis cs:179.4,2.55) {\ang{20}};
\node at (axis cs:167.5,0.14) {\ang{30}};
\node at (axis cs:184,0.079) {\fac{1}};
\node at (axis cs:149,0.0089) {\ang{40}};
\node at (axis cs:174.6,0.0047) {\fac{2}};
\node at (axis cs:131.7,1.9e-4) {\ang{60}};
\node at (axis cs:154,7.8e-5) {\fac{3}};
\node at (axis cs:112.7,2.6e-6) {\ang{85}};
\node at (axis cs:135,1.07e-6) {\fac{4}};
\node at (axis cs:85,1.8e-7) {\ang{115}};
\node at (axis cs:104.8,4.7e-8) {\fac{5}};
\node at (axis cs:19,1.2e-8) {\pnl{(c)}};
\end{axis}

% ---------------- (d) 200 MeV 40Ca(p,Xp)
\begin{axis}[ymode=log, rootax, at={(331pt,-505pt)}, height=223pt,
  xmin=0, xmax=210, ymin=1.8e-8, ymax=98,
  xtick={0,20,...,200}, minor x tick num=3,
  xticklabels={0,20,40,60,80,100,120,140,160,180,200},
  ytick={1e-7,1e-6,1e-5,1e-4,1e-3,1e-2,1e-1,1,10},
  yticklabels={10\textsuperscript{-7},10\textsuperscript{-6},10\textsuperscript{-5},10\textsuperscript{-4},10\textsuperscript{-3},10\textsuperscript{-2},10\textsuperscript{-1},1,10},
  xlabel={proton kinetic energy (MeV)},
  legend style={at={(0.127,0.765)}, nodes={inner sep=0pt, text height=11.5pt, text depth=3.5pt}}]
% 7.5 deg
\addplot[tw] coordinates {(1,0.3)(2,0.77)(3,24)(4,28)(6,19)(10,10)(14,8)(20,5.2)(25,3.7)(30,2.6)(35,2.0)(40,1.7)(45,1.55)(50,1.4)(55,1.3)(60,1.3)(65,1.2)(70,1.1)(75,1.1)(80,0.9)(85,1.0)(90,0.7)(95,0.95)(100,0.84)(105,1.0)(110,0.9)(115,1.2)(120,0.7)(125,0.9)(130,0.9)(135,0.85)(140,0.95)(145,1.2)(150,1.4)(155,1.7)(160,2.2)(165,3.1)(170,3.7)(175,4.4)(180,5.2)(185,6.7)(188,8)(190,8.7)(192,6.2)(193,5)(195,1.5)(197,0.2)(199,0.02)(200,0.001)(200.8,1e-5)(201.3,1e-10)};
\addlegendentry{This work}
\addplot[be] coordinates {(1,0.2)(2,0.5)(3,18)(4,22)(6,17)(10,10)(15,6.5)(20,4.5)(25,3.2)(30,2.6)(35,2.2)(40,2.0)(45,1.8)(50,1.7)(55,1.6)(60,1.5)(65,1.5)(70,1.4)(80,1.3)(90,1.2)(100,1.3)(110,1.2)(120,1.15)(125,1.05)(130,1.05)(140,1.15)(150,1.4)(160,2.0)(165,2.6)(170,3.3)(175,4.0)(180,5.0)(185,7)(190,8.5)(192,10)(194,12)(196,11)(198,7)(199,3)(200,1.8)};
\addlegendentry{Geant4 Bertini}
\addplot[bi] coordinates {(1,0.4)(2,0.6)(3,12)(4,15)(6,13)(10,8)(15,4.5)(20,3.5)(25,2.8)(30,2.5)(35,2.2)(40,2.0)(45,1.8)(50,1.8)(55,1.5)(60,1.6)(70,1.55)(80,1.5)(90,1.6)(100,1.8)(105,2.2)(110,2.0)(115,2.1)(120,2.0)(125,2.3)(130,2.3)(140,2.2)(145,2.5)(150,2.8)(160,3.2)(170,4.0)(180,5.0)(185,6)(188,5.5)(190,8)(193,8)(195,6)(198,3)(200,1.7)};
\addlegendentry{Geant4 Binary}
% 30 deg x1e-3
\addplot[twf] coordinates {(1,4e-4)(2,0.001)(3,0.02)(4,0.025)(6,0.0171)(10,0.0086)(15,0.0051)(20,0.0036)(25,0.0028)(30,0.0026)(40,0.0022)(50,0.0021)(60,0.002)(70,0.0021)(80,0.0022)(90,0.0023)(100,0.0026)(110,0.003)(120,0.0033)(130,0.0036)(140,0.0037)(150,0.0036)(160,0.003)(170,0.0014)(180,8.4e-4)(190,3.8e-4)(195,1.9e-4)(197,1.2e-4)(199,1.7e-5)(200,5.4e-7)(200.5,1e-10)};
\addplot[bef] coordinates {(1,5e-4)(2,0.001)(3,0.015)(4,0.02)(6,0.013)(10,0.0078)(15,0.0052)(20,0.0038)(25,0.003)(30,0.0027)(40,0.0025)(50,0.0025)(60,0.0025)(70,0.0027)(80,0.003)(90,0.0033)(100,0.0036)(110,0.0042)(120,0.0047)(130,0.005)(140,0.0053)(150,0.005)(160,0.0038)(170,0.0018)(175,0.0013)(180,9.3e-4)(183,6.5e-4)(185,3.2e-4)(187,5.5e-4)(190,4.5e-4)(195,2.7e-4)(197,1.6e-4)(200,8e-5)};
\addplot[bif] coordinates {(1,3e-4)(2,8e-4)(3,0.01)(4,0.012)(6,0.01)(10,0.007)(15,0.0045)(20,0.0035)(25,0.0028)(30,0.0024)(40,0.0022)(50,0.0022)(60,0.0021)(70,0.0021)(80,0.0021)(90,0.0021)(100,0.0022)(110,0.0023)(120,0.0024)(130,0.0024)(140,0.0025)(150,0.0024)(160,0.0021)(170,0.0016)(180,0.0013)(185,0.0012)(190,0.0011)(195,6e-4)(198,1.7e-4)};
% 60 deg x1e-4
\addplot[twf] coordinates {(1,3e-4)(2,5e-4)(3,0.002)(4,0.0028)(6,0.002)(10,0.0012)(15,7e-4)(20,5e-4)(25,3.8e-4)(30,3.1e-4)(40,2.4e-4)(50,2.1e-4)(60,1.9e-4)(70,1.6e-4)(80,1.3e-4)(90,1.1e-4)(100,8.7e-5)(110,6.3e-5)(115,4.5e-5)(120,3.7e-5)(125,2.7e-5)(130,2e-5)(135,1.5e-5)(140,1e-5)(142,7.5e-6)(145,8.7e-6)(148,6e-6)(150,6e-6)(155,5e-6)(158,3.7e-6)(160,2.5e-6)(162,1.8e-6)(164,1.3e-6)(166,3e-6)(167,6e-7)(169,9e-7)(170,2.7e-7)(172,3.3e-7)(174,2.3e-7)(176,5.4e-7)(177,1e-7)(178,1e-10)(181.5,1e-10)(182,2.2e-7)(182.5,1e-10)};
\addplot[bef] coordinates {(1,2e-4)(2,4e-4)(3,0.0018)(4,0.0022)(6,0.0016)(10,9e-4)(15,5.8e-4)(20,4e-4)(25,3.3e-4)(30,2.8e-4)(40,2.2e-4)(50,2e-4)(60,1.8e-4)(70,1.55e-4)(80,1.3e-4)(90,1e-4)(100,8e-5)(110,5.5e-5)(115,4.5e-5)(120,3.5e-5)(125,3.4e-5)(130,2e-5)(135,1.4e-5)(140,1e-5)(145,9e-6)(148,4e-6)(150,7e-6)(155,5e-6)(160,3e-6)(165,2e-6)(168,5e-7)(170,1.5e-6)(172,5e-7)(175,4e-7)(178,3.5e-7)(182,3.3e-7)(185,3e-7)(188,1e-7)(190,2.5e-7)(193,1.4e-6)(194,2e-7)(196,2e-8)(197,1e-10)};
\addplot[bif] coordinates {(1,2e-4)(2,3e-4)(3,0.0015)(4,0.002)(6,0.0015)(10,8e-4)(15,5.5e-4)(20,4e-4)(25,3.3e-4)(30,2.8e-4)(40,2.3e-4)(50,2.1e-4)(60,1.9e-4)(70,1.6e-4)(80,1.4e-4)(90,1.2e-4)(100,1e-4)(110,7.5e-5)(115,7e-5)(120,6e-5)(125,5.5e-5)(130,5.4e-5)(135,4.5e-5)(140,4e-5)(145,3.1e-5)(150,2.5e-5)(155,2e-5)(160,1.4e-5)(165,1.5e-5)(168,1e-5)(170,1.1e-5)(172,6e-6)(175,1.2e-5)(178,5e-6)(180,4e-6)(183,2.5e-6)(185,3e-6)(188,6e-6)(190,4e-6)(193,2e-6)(195,1e-6)(197,1e-7)(198,1e-10)};
% 150 deg x1e-5
\addplot[twf] coordinates {(1,5e-6)(2,1e-5)(3,1.2e-4)(4,1.8e-4)(6,1.2e-4)(9,5e-5)(12.8,2e-5)(16,9e-6)(21,4.2e-6)(26,2.5e-6)(29,1.4e-6)(32.5,1.26e-6)(35,9e-7)(37.4,6.3e-7)(40,5e-7)(42.4,3.7e-7)(45.6,2.2e-7)(49,1.6e-7)(52,1.1e-7)(55.5,6.6e-8)(58,4e-8)(60.4,1e-10)(65,1e-10)(66,5e-8)(67,1e-10)(74,1e-10)(75,3.5e-8)(76,1e-10)};
\addplot[bef] coordinates {(1,1e-5)(2,2e-5)(3,1e-4)(4,1.5e-4)(6,1e-4)(10,3.5e-5)(15,1.2e-5)(20,5e-6)(25,3e-6)(30,2e-6)(35,1.5e-6)(40,1.2e-6)(45,9e-7)(48,5e-7)(50,6e-7)(55,4e-7)(60,3.5e-7)(65,4.5e-7)(70,3.5e-7)(75,4.5e-7)(78,3e-7)(80,4.5e-7)(82,2e-7)(85,3.5e-7)(90,2e-7)(92,6e-8)(94,3e-7)(96,1e-7)(98,3e-7)(100,2e-8)(102,1.5e-7)(105,5e-8)(108,1.5e-7)(112,1e-7)(115,2e-7)(118,1e-7)(120,2e-8)(122,1e-10)(124,1e-10)(125,3e-8)(130,2.8e-8)(135,2.5e-8)(140,3e-8)(145,2.8e-8)(150,3e-8)(155,2.5e-8)(160,2.8e-8)(165,3e-8)(170,3e-8)(175,2e-8)(180,2.5e-8)(185,2e-8)(190,7e-8)(192,1e-10)};
\addplot[bif] coordinates {(1,8e-6)(2,1.5e-5)(3,9e-5)(4,1.3e-4)(6,9e-5)(10,3.5e-5)(15,1.5e-5)(20,8e-6)(25,5e-6)(30,3e-6)(35,2.8e-6)(40,2.3e-6)(45,1.2e-6)(48,1.3e-6)(50,6e-7)(55,3.2e-7)(60,2e-7)(65,8e-8)(70,4e-8)(73,1e-10)(77,1e-10)(78,3e-8)(80,1e-10)(87,1e-10)(88,3e-8)(90,1e-10)};
\node[anchor=west] at (rel axis cs:0.127,0.934) {\ttl{200 MeV \textsuperscript{40}Ca(p,Xp)}};
\node at (axis cs:172,13.4) {\ang{7.5}};
\node at (axis cs:140,0.011) {\ang{30}};
\node at (axis cs:166.3,0.0079) {\fac{3}};
\node at (axis cs:112,1.35e-4) {\ang{60}};
\node at (axis cs:141,7.3e-5) {\fac{4}};
\node at (axis cs:41.5,7.1e-6) {\ang{150}};
\node at (axis cs:57,2.3e-6) {\fac{5}};
\node at (axis cs:20.6,9.3e-8) {\pnl{(d)}};
\end{axis}
\end{tikzpicture}
\end{document}
